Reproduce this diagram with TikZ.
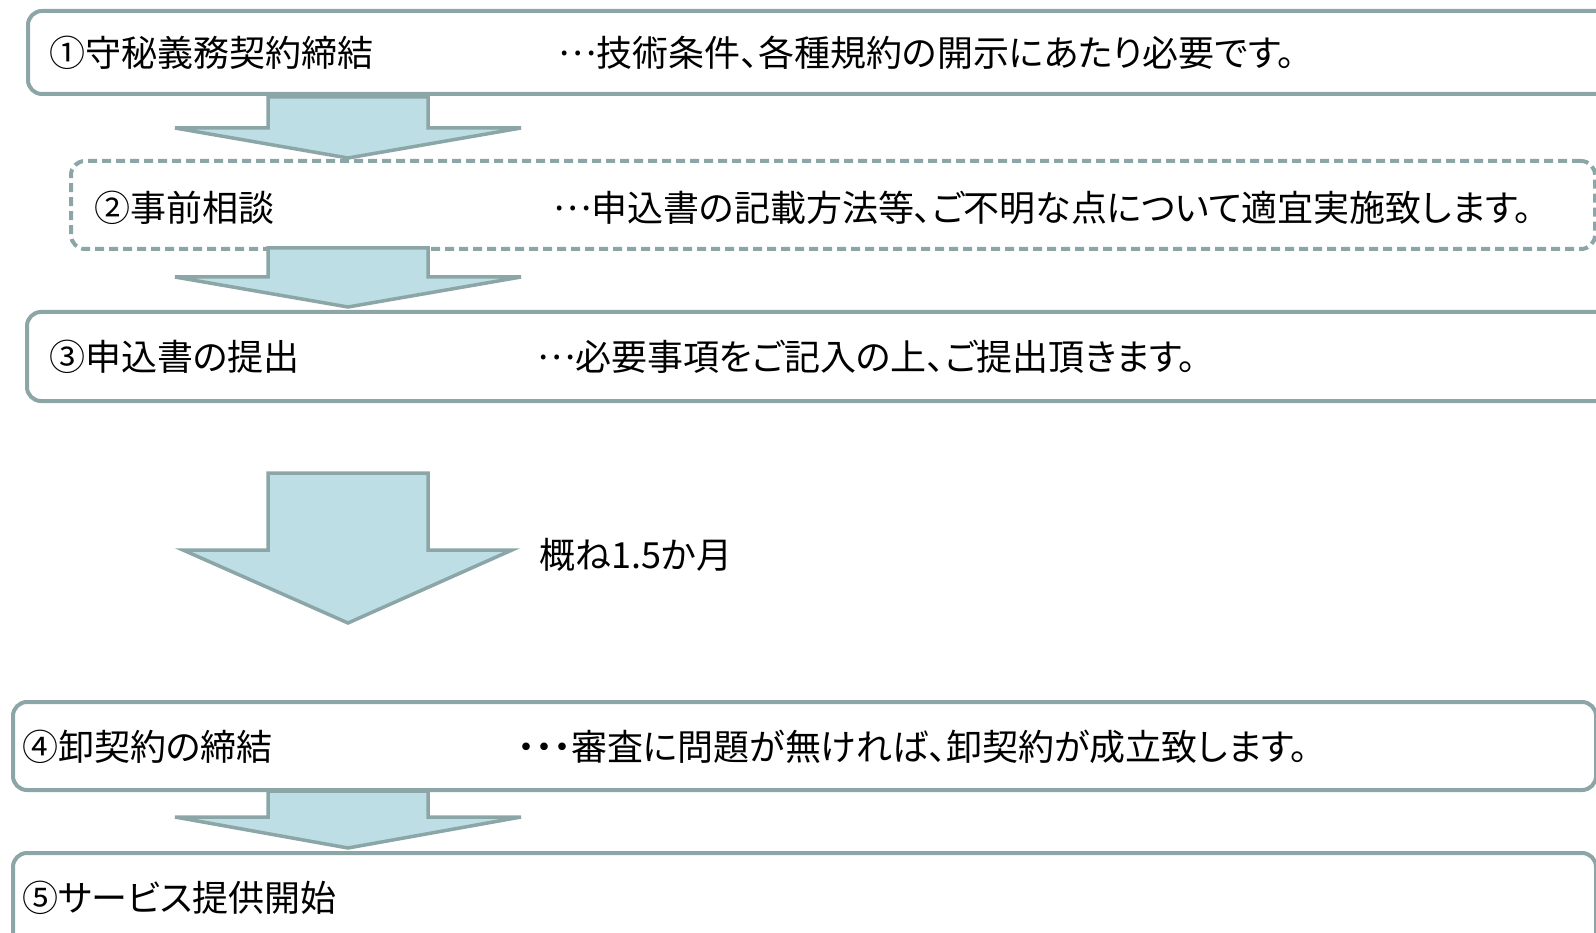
\documentclass[tikz,border=0pt]{standalone}
\usepackage{fontspec}
\setmainfont{Noto Sans CJK JP}[RawFeature=+palt]
\definecolor{frameteal}{HTML}{8CA6A8}
\definecolor{arrowblue}{HTML}{BCDEE4}
\newcommand\midell{\raisebox{0.3em}{…}}
\tikzset{
  stepbox/.style={draw=frameteal, line width=4pt, rounded corners=14pt,
    anchor=north west, inner sep=0pt},
  dashbox/.style={stepbox, dash pattern=on 9pt off 5pt},
  txt/.style={anchor=west, inner sep=0pt, font=\fontsize{36}{42}\selectfont},
  blk/.style={draw=frameteal, fill=arrowblue, line width=3.5pt, line join=miter}
}
\begin{document}
\begin{tikzpicture}[x=1pt, y=-1pt]
  \useasboundingbox (0,0) rectangle (1596,933);
  % step boxes
  \node (s1) [stepbox, minimum width=1620pt, minimum height=83pt] at (26,9) {};
  \node (s2) [dashbox, minimum width=1524pt, minimum height=88pt] at (69,159) {};
  \node (s3) [stepbox, minimum width=1620pt, minimum height=89pt] at (25,310) {};
  \node (s4) [stepbox, minimum width=1583pt, minimum height=88pt] at (11,700) {};
  \node (s5) [stepbox, minimum width=1583pt, minimum height=110pt] at (11,851) {};
  % texts
  \node (t1) [txt] at (49,53) {①守秘義務契約締結};
  \node (d1) [txt] at (558,53) {\midell 技術条件、各種規約の開示にあたり必要です。};
  \node (t2) [txt] at (94,208) {②事前相談};
  \node (d2) [txt] at (553,208) {\midell 申込書の記載方法等、ご不明な点について適宜実施致します。};
  \node (t3) [txt] at (49,357) {③申込書の提出};
  \node (d3) [txt] at (537,357) {\midell 必要事項をご記入の上、ご提出頂きます。};
  \node (t4) [txt] at (22,747) {④卸契約の締結};
  \node (d4) [txt] at (517,747) {・・・審査に問題が無ければ、卸契約が成立致します。};
  \node (t5) [txt] at (22,898) {⑤サービス提供開始};
  % arrows
  \draw [blk] (268,97) -- (428,97) -- (428,128) -- (521,128) -- (348,158)
    -- (175,128) -- (268,128) -- cycle;
  \draw [blk] (268,248) -- (428,248) -- (428,277) -- (521,277) -- (348,307)
    -- (175,277) -- (268,277) -- cycle;
  \draw [blk] (268,473) -- (428,473) -- (428,550) -- (512,550) -- (348,623)
    -- (183,550) -- (268,550) -- cycle;
  \draw [blk] (268,791) -- (428,791) -- (428,817) -- (521,817) -- (348,848)
    -- (175,817) -- (268,817) -- cycle;
  \node (lbl) [txt] at (539,555) {概ね1.5か月};
\end{tikzpicture}
\end{document}
